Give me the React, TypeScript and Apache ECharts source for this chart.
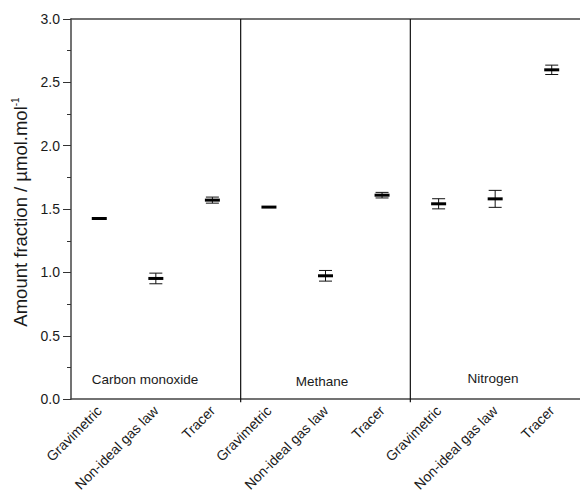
import React, { useEffect, useRef } from "react";
import * as echarts from "echarts";

const categories = [
  "Gravimetric", "Non-ideal gas law", "Tracer",
  "Gravimetric", "Non-ideal gas law", "Tracer",
  "Gravimetric", "Non-ideal gas law", "Tracer",
];
const groups = ["Carbon monoxide", "Methane", "Nitrogen"];
const means = [1.426, 0.953, 1.571, 1.516, 0.974, 1.61, 1.542, 1.581, 2.599];
const errors = [0, 0.042, 0.024, 0, 0.042, 0.022, 0.04, 0.067, 0.037];
const separatorAfter = [2, 5];
const yTitle = "Amount fraction / µmol.mol";
const yTitleSup = "-1";

const groupLabelPos = [
  { x: 145, y: 379 },
  { x: 322, y: 381 },
  { x: 493, y: 378 },
];

export default function App() {
  const ref = useRef<HTMLDivElement>(null);
  useEffect(() => {
    if (!ref.current) return;
    const chart = echarts.init(ref.current, null, { renderer: "svg" });
    const font = "Arial, 'Liberation Sans', sans-serif";
    chart.setOption({
      animation: false,
      backgroundColor: "#ffffff",
      grid: { left: 71, top: 19, width: 513, height: 380.5, containLabel: false },
      xAxis: [
        {
          type: "category",
          data: categories,
          position: "bottom",
          boundaryGap: true,
          axisLine: { lineStyle: { color: "#444", width: 1.5 } },
          axisTick: { alignWithLabel: true, length: 5, inside: false, lineStyle: { color: "#333", width: 1 } },
          axisLabel: {
            rotate: 45,
            interval: 0,
            fontSize: 14,
            fontFamily: font,
            color: "#1a1a1a",
            margin: 9,
          },
          splitLine: { show: false },
        },
        {
          type: "category",
          data: categories,
          position: "top",
          boundaryGap: true,
          axisLine: { lineStyle: { color: "#444", width: 1.5 } },
          axisTick: { alignWithLabel: true, length: 2, inside: true, lineStyle: { color: "#333" } },
          axisLabel: { show: false },
          splitLine: { show: false },
        },
      ],
      yAxis: {
        type: "value",
        min: 0,
        max: 3,
        interval: 0.5,
        axisLine: { show: true, lineStyle: { color: "#444", width: 1.5 } },
        axisTick: { show: true, length: 8, inside: false, lineStyle: { color: "#333" } },
        minorTick: { show: true, splitNumber: 2, length: 4, lineStyle: { color: "#333" } },
        axisLabel: {
          fontSize: 14,
          fontFamily: font,
          color: "#1a1a1a",
          margin: 11,
          formatter: (v: number) => v.toFixed(1),
        },
        splitLine: { show: false },
      },
      graphic: [
        ...groups.map((g, i) => ({
          type: "text",
          x: groupLabelPos[i].x,
          y: groupLabelPos[i].y,
          style: {
            text: g,
            fontSize: 13.5,
            fontFamily: font,
            fill: "#1a1a1a",
            textAlign: "center",
            textVerticalAlign: "middle",
          },
        })),
        {
          type: "text",
          x: 20,
          y: 212,
          rotation: Math.PI / 2,
          style: {
            text: `{a|${yTitle}}{s|${yTitleSup}}`,
            textAlign: "center",
            textVerticalAlign: "middle",
            rich: {
              a: { fontSize: 18.5, fontFamily: font, fill: "#1a1a1a" },
              s: { fontSize: 10, fontFamily: font, fill: "#1a1a1a", padding: [0, 0, 10, 0] },
            },
          },
        },
      ],
      series: [
        {
          type: "custom",
          name: "separators",
          clip: false,
          data: separatorAfter.map((s) => [s]),
          renderItem: (params: any, api: any) => {
            const idx = api.value(0);
            const band = api.size([1, 0])[0];
            const x = api.coord([idx, 0])[0] + band / 2;
            const top = api.coord([idx, 3])[1];
            const bottom = api.coord([idx, 0])[1] + 3;
            return {
              type: "line",
              shape: { x1: x, y1: top, x2: x, y2: bottom },
              style: { stroke: "#111", lineWidth: 1.2 },
            };
          },
        },
        {
          type: "custom",
          name: "values",
          clip: false,
          data: means.map((m, i) => [i, m, errors[i]]),
          renderItem: (params: any, api: any) => {
            const i = api.value(0);
            const m = api.value(1);
            const e = api.value(2);
            const c = api.coord([i, m]);
            const hi = api.coord([i, m + e]);
            const lo = api.coord([i, m - e]);
            const children: any[] = [];
            if (e > 0) {
              const capW = 6.5;
              children.push(
                { type: "line", shape: { x1: c[0], y1: hi[1], x2: c[0], y2: lo[1] }, style: { stroke: "#111", lineWidth: 1 } },
                { type: "line", shape: { x1: c[0] - capW, y1: hi[1], x2: c[0] + capW, y2: hi[1] }, style: { stroke: "#111", lineWidth: 1 } },
                { type: "line", shape: { x1: c[0] - capW, y1: lo[1], x2: c[0] + capW, y2: lo[1] }, style: { stroke: "#111", lineWidth: 1 } }
              );
            }
            children.push({
              type: "line",
              shape: { x1: c[0] - 7.5, y1: c[1], x2: c[0] + 7.5, y2: c[1] },
              style: { stroke: "#000", lineWidth: 3 },
            });
            return { type: "group", children };
          },
        },
      ],
    });
    return () => chart.dispose();
  }, []);
  return (
    <div
      ref={ref}
      style={{ position: "fixed", left: 0, top: 0, width: 580, height: 494, background: "#fff" }}
    />
  );
}
